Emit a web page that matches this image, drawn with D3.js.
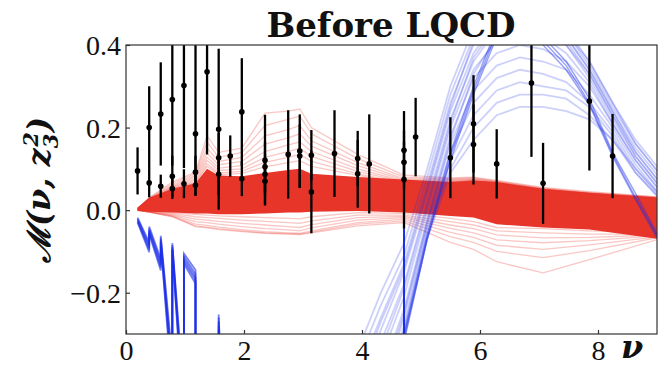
<!DOCTYPE html>
<html>
<head>
<meta charset="utf-8">
<script src="https://cdn.jsdelivr.net/npm/d3@7"></script>
<style>
body { margin: 0; background: #fff; }
svg { display: block; }
</style>
</head>
<body>
<svg id="chart" width="658" height="366"></svg>
<script>
// ---- data ----
const xTicks = [0, 2, 4, 6, 8];
const yTicks = [-0.2, 0.0, 0.2, 0.4];

// lattice points: [nu, M, error below, error above (optional)]
const points = [
    [0.196, 0.095, 0.057],
    [0.393, 0.200, 0.100], [0.393, 0.066, 0.035],
    [0.589, 0.233, 0.125], [0.589, 0.058, 0.028],
    [0.785, 0.268, 0.160], [0.785, 0.082, 0.050], [0.785, 0.052, 0.025],
    [0.982, 0.302, 0.200], [0.982, 0.064, 0.035],
    [1.178, 0.185, 0.150, 0.230], [1.178, 0.092, 0.040], [1.178, 0.060, 0.025],
    [1.374, 0.335, 0.200],
    [1.571, 0.196, 0.195], [1.571, 0.127, 0.060], [1.571, 0.087, 0.050],
    [1.767, 0.131, 0.050],
    [1.963, 0.238, 0.130], [1.963, 0.076, 0.042],
    [2.356, 0.121, 0.110], [2.356, 0.105, 0.060], [2.356, 0.087, 0.050], [2.356, 0.070, 0.056],
    [2.749, 0.135, 0.107],
    [2.945, 0.143, 0.089], [2.945, 0.131, 0.077],
    [3.142, 0.133, 0.061], [3.142, 0.044, 0.100],
    [3.534, 0.137, 0.105],
    [3.927, 0.125, 0.067], [3.927, 0.088, 0.082],
    [4.123, 0.112, 0.120],
    [4.712, 0.145, 0.095], [4.712, 0.116, 0.050], [4.712, 0.074, 0.119],
    [4.909, 0.177, 0.095],
    [5.498, 0.127, 0.098],
    [5.890, 0.209, 0.118], [5.890, 0.159, 0.097],
    [6.283, 0.112, 0.084],
    [6.872, 0.308, 0.179],
    [7.069, 0.065, 0.098],
    [7.854, 0.264, 0.168],
    [8.247, 0.131, 0.102]
];

// red ensemble ("Before LQCD" prior)
const redNu = [0.196, 0.393, 0.785, 1.178, 1.374, 1.571, 1.963, 2.356, 2.749, 2.945, 3.142, 3.927, 4.712, 5.498, 5.890, 6.283, 7.069, 7.854, 9.032];
const redCoreHi = [0.006, 0.030, 0.052, 0.065, 0.100, 0.084, 0.082, 0.090, 0.097, 0.100, 0.088, 0.080, 0.074, 0.068, 0.072, 0.068, 0.052, 0.042, 0.030];
const redCoreLo = [-0.002, -0.004, -0.006, -0.008, -0.008, -0.010, -0.010, -0.008, -0.006, -0.006, -0.004, -0.002, -0.006, -0.014, -0.018, -0.034, -0.042, -0.047, -0.070];
const redLines = [
    [0.004, 0.030, 0.068, 0.092, 0.180, 0.140, 0.150, 0.235, 0.240, 0.245, 0.200, 0.135, 0.085, 0.078, 0.080, 0.072, 0.055, 0.045, 0.032],
    [0.004, 0.029, 0.064, 0.088, 0.165, 0.128, 0.140, 0.205, 0.220, 0.228, 0.185, 0.125, 0.080, 0.076, 0.078, 0.070, 0.053, 0.043, 0.031],
    [0.004, 0.028, 0.060, 0.084, 0.150, 0.118, 0.128, 0.180, 0.195, 0.205, 0.168, 0.115, 0.076, 0.074, 0.076, 0.069, 0.052, 0.042, 0.030],
    [0.004, 0.027, 0.057, 0.080, 0.138, 0.110, 0.118, 0.160, 0.175, 0.185, 0.155, 0.108, 0.073, 0.072, 0.075, 0.068, 0.051, 0.041, 0.030],
    [0.003, 0.026, 0.055, 0.076, 0.128, 0.102, 0.108, 0.142, 0.158, 0.165, 0.142, 0.100, 0.070, 0.070, 0.073, 0.067, 0.050, 0.040, 0.029],
    [0.003, 0.025, 0.053, 0.072, 0.120, 0.096, 0.100, 0.128, 0.142, 0.150, 0.130, 0.094, 0.068, 0.069, 0.072, 0.066, 0.049, 0.040, 0.029],
    [0.003, 0.024, 0.052, 0.068, 0.112, 0.090, 0.094, 0.116, 0.128, 0.135, 0.118, 0.088, 0.066, 0.068, 0.071, 0.065, 0.049, 0.040, 0.028],
    [0.003, 0.023, 0.050, 0.066, 0.106, 0.086, 0.089, 0.105, 0.115, 0.120, 0.106, 0.084, 0.064, 0.067, 0.070, 0.064, 0.048, 0.039, 0.028],
    [0.002, 0.012, 0.025, 0.035, 0.055, 0.045, 0.045, 0.050, 0.055, 0.058, 0.050, 0.045, 0.040, 0.030, 0.030, 0.020, 0.010, 0.005, -0.010],
    [0.001, -0.002, -0.006, -0.010, -0.012, -0.014, -0.016, -0.018, -0.020, -0.021, -0.016, -0.006, -0.008, -0.020, -0.028, -0.042, -0.045, -0.050, -0.055],
    [0.001, -0.003, -0.008, -0.016, -0.018, -0.020, -0.024, -0.027, -0.030, -0.032, -0.026, -0.012, -0.012, -0.028, -0.036, -0.050, -0.055, -0.058, -0.058],
    [0.000, -0.004, -0.010, -0.022, -0.024, -0.027, -0.032, -0.036, -0.040, -0.042, -0.035, -0.018, -0.015, -0.036, -0.045, -0.060, -0.067, -0.066, -0.060],
    [0.000, -0.004, -0.012, -0.028, -0.030, -0.034, -0.040, -0.045, -0.048, -0.050, -0.043, -0.024, -0.018, -0.044, -0.055, -0.072, -0.079, -0.074, -0.062],
    [0.000, -0.005, -0.014, -0.034, -0.037, -0.041, -0.047, -0.052, -0.055, -0.056, -0.050, -0.030, -0.022, -0.054, -0.066, -0.085, -0.095, -0.084, -0.064],
    [0.000, -0.005, -0.015, -0.038, -0.041, -0.045, -0.050, -0.055, -0.057, -0.058, -0.053, -0.034, -0.026, -0.064, -0.078, -0.100, -0.115, -0.098, -0.066],
    [0.000, -0.005, -0.016, -0.040, -0.043, -0.047, -0.052, -0.056, -0.058, -0.059, -0.055, -0.038, -0.030, -0.078, -0.095, -0.125, -0.152, -0.120, -0.070]
];

// blue ensemble, right-hand bump
const blueNu = [3.927, 4.320, 4.712, 5.105, 5.498, 5.890, 6.283, 6.676, 7.069, 7.461, 7.854, 8.247, 8.639, 9.032];
const blueLines = [
    [-0.34, -0.20, -0.08, 0.10, 0.30, 0.44, 0.52, 0.55, 0.52, 0.44, 0.36, 0.26, 0.17, 0.10],
    [-0.37, -0.23, -0.11, 0.08, 0.28, 0.42, 0.50, 0.53, 0.51, 0.43, 0.35, 0.25, 0.16, 0.09],
    [-0.40, -0.26, -0.13, 0.06, 0.26, 0.40, 0.48, 0.51, 0.49, 0.42, 0.34, 0.24, 0.15, 0.08],
    [-0.44, -0.29, -0.15, 0.04, 0.24, 0.38, 0.46, 0.49, 0.47, 0.41, 0.33, 0.23, 0.14, 0.07],
    [-0.48, -0.32, -0.18, 0.02, 0.22, 0.36, 0.44, 0.46, 0.45, 0.40, 0.32, 0.22, 0.13, 0.06],
    [-0.52, -0.36, -0.21, 0.00, 0.20, 0.34, 0.41, 0.43, 0.42, 0.38, 0.31, 0.21, 0.12, 0.05],
    [-0.56, -0.40, -0.24, -0.02, 0.18, 0.32, 0.38, 0.40, 0.39, 0.36, 0.30, 0.21, 0.12, 0.05],
    [-0.60, -0.44, -0.26, -0.03, 0.16, 0.29, 0.35, 0.37, 0.36, 0.34, 0.28, 0.20, 0.11, 0.04],
    [-0.65, -0.48, -0.28, -0.04, 0.14, 0.26, 0.32, 0.34, 0.33, 0.31, 0.26, 0.19, 0.10, 0.035],
    [-0.70, -0.52, -0.29, -0.05, 0.12, 0.23, 0.29, 0.31, 0.30, 0.29, 0.25, 0.18, 0.09, 0.03],
    [-0.75, -0.56, -0.30, -0.06, 0.10, 0.20, 0.26, 0.28, 0.28, 0.27, 0.23, 0.17, 0.09, 0.03],
    [-0.80, -0.60, -0.31, -0.07, 0.09, 0.17, 0.23, 0.25, 0.25, 0.24, 0.22, 0.17, 0.10, 0.04],
    [-0.42, -0.27, -0.14, 0.05, 0.25, 0.41, 0.49, 0.52, 0.50, 0.43, 0.36, 0.26, 0.16, 0.09],
    [-0.50, -0.34, -0.19, 0.01, 0.21, 0.37, 0.45, 0.48, 0.47, 0.42, 0.34, 0.24, 0.14, 0.07],
    [-0.58, -0.42, -0.25, -0.03, 0.17, 0.33, 0.42, 0.45, 0.44, 0.40, 0.33, 0.23, 0.13, 0.06]
];
const blueStrand = [
    [-0.65, -0.48, -0.30, -0.06, 0.14, 0.30, 0.44, 0.48, 0.42, 0.36, 0.27, 0.14, 0.04, -0.065],
    [-0.70, -0.52, -0.31, -0.07, 0.13, 0.29, 0.43, 0.47, 0.41, 0.35, 0.26, 0.135, 0.03, -0.07],
    [-0.75, -0.55, -0.32, -0.07, 0.12, 0.28, 0.42, 0.46, 0.40, 0.34, 0.255, 0.13, 0.025, -0.075]
];

// blue ensemble, left dive (nu repeats where the data order jumps back)
const blueLeftNu = [0.196, 0.393, 0.393, 0.589, 0.589, 0.785, 0.785, 0.982, 0.982, 1.178, 1.178, 1.571, 1.571, 1.767, 4.712, 4.712];
const blueLeft = [
    [-0.018, -0.078, -0.040, -0.118, -0.062, -0.36, -0.080, -0.45, -0.105, -0.145, -0.60, -0.70, -0.253, -1.0, -1.5, -0.045],
    [-0.021, -0.084, -0.045, -0.125, -0.067, -0.38, -0.085, -0.47, -0.112, -0.155, -0.60, -0.70, -0.260, -1.0, -1.5, -0.045],
    [-0.024, -0.090, -0.050, -0.132, -0.072, -0.40, -0.090, -0.49, -0.118, -0.163, -0.60, -0.70, -0.270, -1.0, -1.5, -0.045],
    [-0.027, -0.096, -0.054, -0.139, -0.077, -0.42, -0.094, -0.51, -0.124, -0.170, -0.60, -0.70, -0.280, -1.0, -1.5, -0.045],
    [-0.030, -0.102, -0.058, -0.146, -0.082, -0.44, -0.098, -0.53, -0.130, -0.178, -0.60, -0.70, -0.290, -1.0, -1.5, -0.045]
];

// ---- drawing ----
const svg = d3.select("#chart");
const plot = { left: 126, right: 657, top: 45, bottom: 334 };

const x = d3.scaleLinear().domain([0, 9]).range([plot.left, plot.right]);
const y = d3.scaleLinear().domain([-0.3, 0.4]).range([plot.bottom, plot.top]);

const red = "#e8352a";
const blue = "#1a2de8";

svg.append("defs").append("clipPath").attr("id", "clip")
    .append("rect")
    .attr("x", plot.left).attr("y", plot.top)
    .attr("width", plot.right - plot.left).attr("height", plot.bottom - plot.top);

const g = svg.append("g").attr("clip-path", "url(#clip)");

// red core band
const area = d3.area()
    .x((d, i) => x(redNu[i]))
    .y0((d, i) => y(redCoreLo[i]))
    .y1(d => y(d));
g.append("path").datum(redCoreHi)
    .attr("d", area)
    .attr("fill", red);

// red faint lines
const redLine = d3.line().x((d, i) => x(redNu[i])).y(d => y(d));
g.selectAll(".red-line")
    .data(redLines)
    .enter()
    .append("path")
    .attr("d", redLine)
    .attr("fill", "none")
    .attr("stroke", red)
    .attr("stroke-opacity", 0.28)
    .attr("stroke-width", 1.3);

// blue bump
const blueLine = d3.line().x((d, i) => x(blueNu[i])).y(d => y(d));
g.selectAll(".blue-line")
    .data(blueLines)
    .enter()
    .append("path")
    .attr("d", blueLine)
    .attr("fill", "none")
    .attr("stroke", blue)
    .attr("stroke-opacity", 0.22)
    .attr("stroke-width", 1.8);
g.selectAll(".blue-strand")
    .data(blueStrand)
    .enter()
    .append("path")
    .attr("d", blueLine)
    .attr("fill", "none")
    .attr("stroke", blue)
    .attr("stroke-opacity", 0.45)
    .attr("stroke-width", 1.4);

// blue dive on the left
const blueLeftLine = d3.line().x((d, i) => x(blueLeftNu[i])).y(d => y(d));
g.selectAll(".blue-left")
    .data(blueLeft)
    .enter()
    .append("path")
    .attr("d", blueLeftLine)
    .attr("fill", "none")
    .attr("stroke", blue)
    .attr("stroke-opacity", 0.6)
    .attr("stroke-width", 1.8);

// error bars and points
g.selectAll(".err")
    .data(points)
    .enter()
    .append("line")
    .attr("x1", d => x(d[0])).attr("x2", d => x(d[0]))
    .attr("y1", d => y(d[1] - d[2])).attr("y2", d => y(d[1] + (d[3] !== undefined ? d[3] : d[2])))
    .attr("stroke", "#000")
    .attr("stroke-width", 2.3);
g.selectAll(".pt")
    .data(points)
    .enter()
    .append("circle")
    .attr("cx", d => x(d[0])).attr("cy", d => y(d[1]))
    .attr("r", 2.8)
    .attr("fill", "#000");

// frame
svg.append("rect")
    .attr("x", plot.left).attr("y", plot.top)
    .attr("width", plot.right - plot.left).attr("height", plot.bottom - plot.top)
    .attr("fill", "none")
    .attr("stroke", "#333")
    .attr("stroke-width", 1.2);

// axes, ticks pointing inward
const fmt = d => (d < 0 ? "\u2212" : "") + Math.abs(d).toFixed(1);
const xAxis = svg.append("g")
    .attr("transform", `translate(0, ${plot.bottom})`)
    .call(d3.axisBottom(x).tickValues(xTicks).tickSize(-4).tickPadding(6).tickFormat(d3.format("d")));
const yAxis = svg.append("g")
    .attr("transform", `translate(${plot.left}, 0)`)
    .call(d3.axisLeft(y).tickValues(yTicks).tickSize(-4).tickPadding(5).tickFormat(fmt));

[xAxis, yAxis].forEach(a => {
    a.select(".domain").remove();
    a.selectAll(".tick line").attr("stroke", "#333").attr("stroke-width", 1.2);
    a.selectAll(".tick text")
        .attr("fill", "#111")
        .style("font-family", "'Liberation Serif', 'DejaVu Serif', serif")
        .style("font-size", "28px");
});
yAxis.selectAll(".tick text").attr("dy", "0.34em");
xAxis.selectAll(".tick text").attr("dy", "0.7em");

// title
svg.append("text")
    .attr("x", 391).attr("y", 37)
    .attr("text-anchor", "middle")
    .style("font-family", "'DejaVu Serif', serif")
    .style("font-weight", "bold")
    .style("font-size", "34px")
    .attr("fill", "#111")
    .text("Before LQCD");

// x label
svg.append("text")
    .attr("x", 632).attr("y", 358)
    .attr("text-anchor", "middle")
    .style("font-family", "'DejaVu Serif', serif")
    .style("font-weight", "bold")
    .style("font-style", "italic")
    .style("font-size", "32px")
    .attr("fill", "#111")
    .text("\u03bd");

// y label  M(nu, z_3^2)
const yl = svg.append("text")
    .attr("transform", "translate(50, 190) rotate(-90)")
    .attr("text-anchor", "middle")
    .style("font-family", "'DejaVu Serif', serif")
    .style("font-weight", "bold")
    .style("font-style", "italic")
    .style("font-size", "32px")
    .attr("fill", "#111");
yl.append("tspan").text("\u2133(\u03bd, z");
yl.append("tspan").attr("dy", 8).style("font-size", "21px").text("3");
yl.append("tspan").attr("dx", -13).attr("dy", -20).style("font-size", "21px").text("2");
yl.append("tspan").attr("dy", 12).text(")");
</script>
</body>
</html>
